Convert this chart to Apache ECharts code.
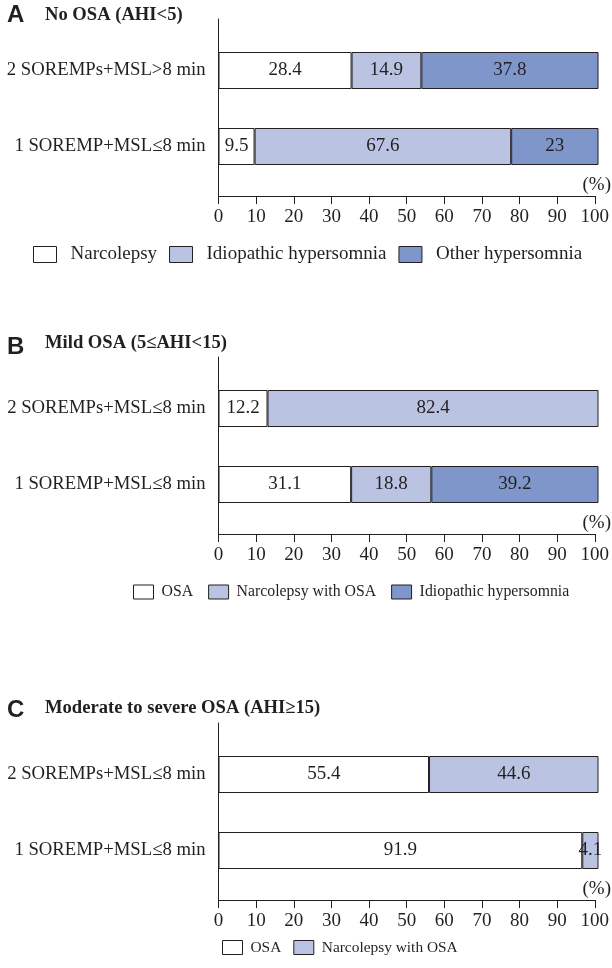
<!DOCTYPE html>
<html><head><meta charset="utf-8">
<script src="https://cdn.jsdelivr.net/npm/echarts@6/dist/echarts.min.js"></script>
<style>html,body{margin:0;padding:0;background:#fff}#c{width:612px;height:968px}</style>
</head><body><div id="c"></div>
<script>
// ---- data ----
var catsA = ['2 SOREMPs+MSL>8 min', '1 SOREMP+MSL\u22648 min'];
var catsB = ['2 SOREMPs+MSL\u22648 min', '1 SOREMP+MSL\u22648 min'];
var catsC = ['2 SOREMPs+MSL\u22648 min', '1 SOREMP+MSL\u22648 min'];

var namesA = ['Narcolepsy', 'Idiopathic hypersomnia', 'Other hypersomnia'];
var narcolepsyA = [28.4, 9.5];
var idiopathicA = [14.9, 67.6];
var otherA = [37.8, 23];

var namesB = ['OSA', 'Narcolepsy with OSA', 'Idiopathic hypersomnia'];
var osaB = [12.2, 31.1];
var narcOsaB = [82.4, 18.8];
var idiopathicB = [null, 39.2];

var namesC = ['OSA', 'Narcolepsy with OSA'];
var osaC = [55.4, 91.9];
var narcOsaC = [44.6, 4.1];

var xTicks = [0, 10, 20, 30, 40, 50, 60, 70, 80, 90, 100];

var titlesPanel = ['No OSA (AHI<5)', 'Mild OSA (5\u2264AHI<15)', 'Moderate to severe OSA (AHI\u226515)'];
var letters = ['A', 'B', 'C'];

// ---- style ----
var COLORS = ['#ffffff', '#bac3e2', '#7f96cb'];
var INK = '#231f20';
var SERIF = '"Liberation Serif", "DejaVu Serif", serif';
var FS = 19;

var panels = [
  {cats: catsA, names: namesA, series: [narcolepsyA, idiopathicA, otherA], axisY: 196,
   leg: {left: 33, top: 245, fs: 19, w: 23, h: 16, gap: 12, tpad: 9}},
  {cats: catsB, names: namesB, series: [osaB, narcOsaB, idiopathicB], axisY: 534,
   leg: {left: 133, top: 584, fs: 15.8, w: 20, h: 14, gap: 15, tpad: 3}},
  {cats: catsC, names: namesC, series: [osaC, narcOsaC], axisY: 900,
   leg: {left: 222, top: 940, fs: 15.4, w: 20, h: 14, gap: 12, tpad: 3}}
];
var titleTops = [[3, 6], [335, 334], [698, 699]];

var option = {
  backgroundColor: '#fff',
  animation: false,
  textStyle: {fontFamily: SERIF, color: INK},
  title: [], legend: [], grid: [], xAxis: [], yAxis: [], series: []
};

panels.forEach(function (p, k) {
  var Y = p.axisY;
  // titles
  option.title.push({text: letters[k], left: 7, top: titleTops[k][0], padding: 0,
    textStyle: {fontFamily: '"Liberation Sans", Arial, sans-serif', fontWeight: 'bold', fontSize: 24, lineHeight: 24, color: INK}});
  option.title.push({text: titlesPanel[k], left: 45, top: titleTops[k][1], padding: 0,
    textStyle: {fontFamily: SERIF, fontWeight: 'bold', fontSize: 18.6, lineHeight: 18, color: INK}});
  option.title.push({text: '(%)', right: 1, top: Y - 20, padding: 0,
    textStyle: {fontFamily: SERIF, fontWeight: 'normal', fontSize: FS, lineHeight: 18, color: INK}});

  // frame grid (axis lines + ticks)
  var gFrame = option.grid.length;
  option.grid.push({left: 218.5, width: 380, top: Y - 177, height: 177});
  option.xAxis.push({type: 'value', gridIndex: gFrame, min: 0, max: 100, interval: 10,
    axisLine: {show: true, lineStyle: {color: INK, width: 1}},
    axisTick: {show: true, length: 8, lineStyle: {color: INK}},
    axisLabel: {fontFamily: SERIF, fontSize: FS, color: INK, margin: 12,
      formatter: function (v) { return xTicks.indexOf(v) >= 0 ? String(v) : ''; }},
    splitLine: {show: false}});
  option.yAxis.push({type: 'category', gridIndex: gFrame, data: [''],
    axisLine: {show: true, lineStyle: {color: INK, width: 1}},
    axisTick: {show: false}, axisLabel: {show: false}, splitLine: {show: false}});

  // bar grid
  var gBar = option.grid.length;
  option.grid.push({left: 218.5, width: 380, top: Y - 163.5, height: 152});
  option.xAxis.push({type: 'value', gridIndex: gBar, min: 0, max: 100, show: false});
  option.yAxis.push({type: 'category', gridIndex: gBar, data: p.cats, inverse: true,
    axisLine: {show: false}, axisTick: {show: false},
    axisLabel: {fontFamily: SERIF, fontSize: 18.7, color: INK, margin: 13}});

  var sums = p.cats.map(function (_, i) {
    return p.series.reduce(function (s, arr) { return s + (arr[i] || 0); }, 0);
  });

  p.series.forEach(function (arr, j) {
    option.series.push({
      type: 'bar', name: p.names[j], stack: 'p' + k,
      xAxisIndex: gBar, yAxisIndex: gBar,
      barWidth: 37,
      data: arr.map(function (v, i) { return v == null ? null : v / sums[i] * 100; }),
      itemStyle: {color: COLORS[j], borderColor: INK, borderWidth: 1},
      label: {show: true, position: 'inside', fontFamily: SERIF, fontSize: FS, color: INK,
        formatter: function (pr) { var r = arr[pr.dataIndex]; return r == null ? '' : String(r); }},
      emphasis: {disabled: true}
    });
  });

  var L = p.leg;
  option.legend.push({
    data: p.names.map(function (n, j) {
      return {name: n, icon: 'rect', itemStyle: {color: COLORS[j], borderColor: INK, borderWidth: 1}};
    }),
    left: L.left, top: L.top, padding: 0, width: 600, orient: 'horizontal',
    itemWidth: L.w, itemHeight: L.h, itemGap: L.gap,
    textStyle: {fontFamily: SERIF, fontSize: L.fs, color: INK, padding: [0, 0, 0, L.tpad]},
    selectedMode: false
  });
});

var chart = echarts.init(document.getElementById('c'), null, {renderer: 'canvas'});
chart.setOption(option);
</script></body></html>
